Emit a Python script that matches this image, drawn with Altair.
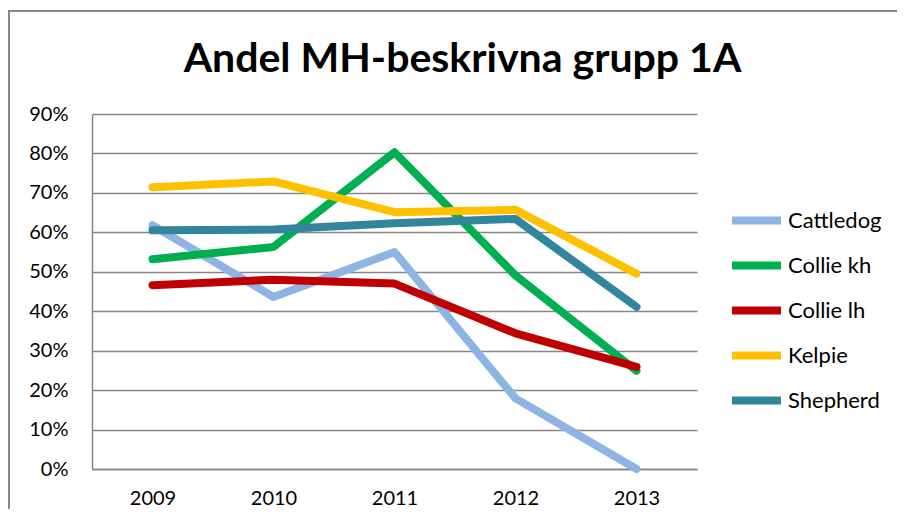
import altair as alt
import pandas as pd

years = ["2009", "2010", "2011", "2012", "2013"]
series_names = ["Cattledog", "Collie kh", "Collie lh", "Kelpie", "Shepherd"]
cattledog = [0.618, 0.436, 0.550, 0.179, 0.0]
collie_kh = [0.532, 0.563, 0.803, 0.491, 0.249]
collie_lh = [0.466, 0.480, 0.470, 0.344, 0.259]
kelpie = [0.714, 0.729, 0.651, 0.657, 0.495]
shepherd = [0.605, 0.607, 0.623, 0.634, 0.411]
colors = ["#8EB4E3", "#00B050", "#C00000", "#FFC000", "#31859C"]

values = [cattledog, collie_kh, collie_lh, kelpie, shepherd]
rows = []
for name, vals in zip(series_names, values):
    for y, v in zip(years, vals):
        rows.append({"year": y, "series": name, "value": v})
df = pd.DataFrame(rows)

FONT = "Lato"

lines = alt.Chart(df).mark_line(strokeWidth=8, strokeCap="round", strokeJoin="round").encode(
    x=alt.X("year:O", title=None, sort=years,
            scale=alt.Scale(paddingOuter=0.5, paddingInner=0),
            axis=alt.Axis(labelAngle=0, ticks=False, labelPadding=19, labelFontSize=20,
                          labelColor="#000000", domainColor="#868686", domainWidth=1.5,
                          labelFont=FONT)),
    y=alt.Y("value:Q", title=None,
            scale=alt.Scale(domain=[0, 0.9], nice=False),
            axis=alt.Axis(format=".0%", values=[i / 10 for i in range(10)], ticks=False,
                          labelPadding=24, labelFontSize=20, labelColor="#000000",
                          domainColor="#868686", domainWidth=1.5, gridColor="#868686",
                          gridWidth=1.5, labelFont=FONT)),
    color=alt.Color("series:N", sort=series_names,
                    scale=alt.Scale(domain=series_names, range=colors),
                    legend=alt.Legend(title=None, orient="none", legendX=636, legendY=78,
                                      symbolType="stroke", symbolSize=2400,
                                      symbolStrokeWidth=8, labelFontSize=22,
                                      labelFont=FONT, labelColor="#000000",
                                      labelOffset=3, rowPadding=0)),
)

border = alt.Chart(df).mark_rect(fill=None, stroke="#888888", strokeWidth=1.5).encode(
    x=alt.value(-83), x2=alt.value(900), y=alt.value(-103), y2=alt.value(600)
)

chart = alt.layer(border, lines).properties(
    width=605, height=355,
    autosize=alt.AutoSizeParams(type="none"),
    padding={"left": 84, "top": 106, "right": 200, "bottom": 40},
    title=alt.TitleParams("Andel MH-beskrivna grupp 1A", fontSize=41, font=FONT,
                          fontWeight="bold", color="#000000", anchor="middle",
                          dx=68, offset=-71),
).configure_view(stroke=None)

chart.save("out.html", embed_options={"renderer": "svg", "actions": False})
